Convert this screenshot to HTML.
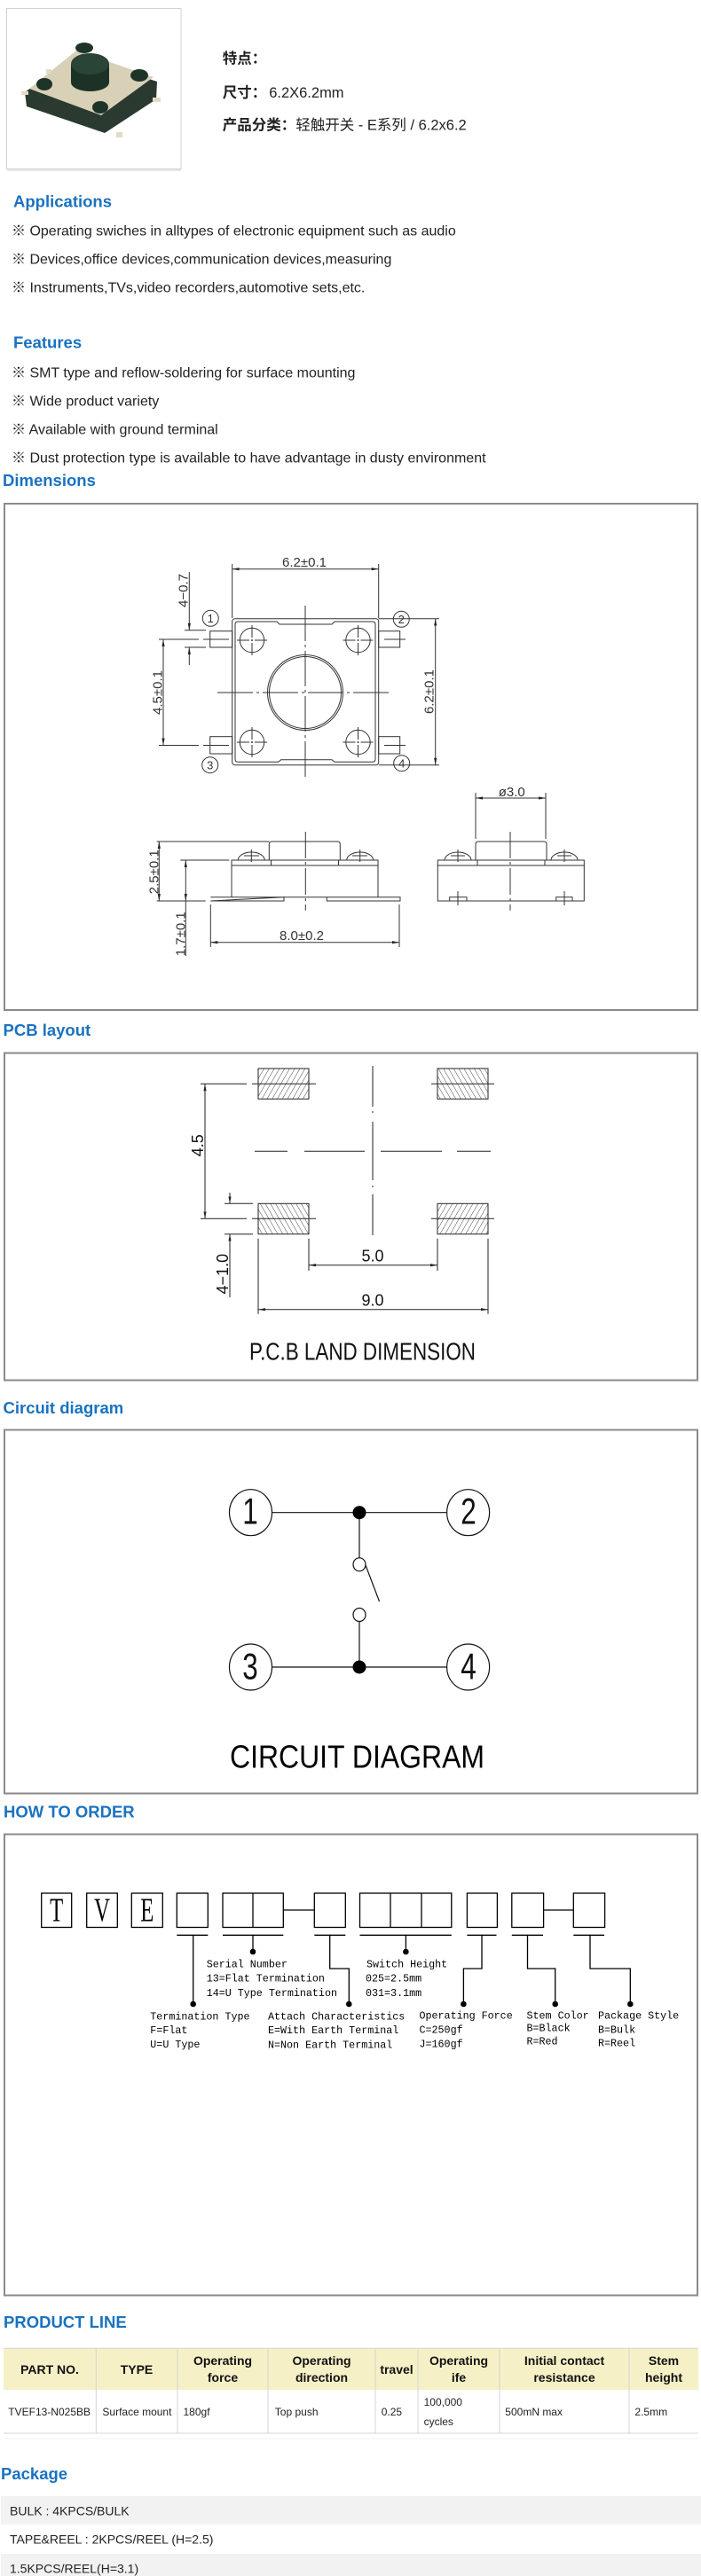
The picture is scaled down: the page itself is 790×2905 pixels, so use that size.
<!DOCTYPE html>
<html><head><meta charset="utf-8">
<style>
html,body{margin:0;padding:0;background:#fff;}
svg{display:block;}
.h{font-family:"Liberation Sans","Noto Sans CJK SC",sans-serif;font-weight:bold;font-size:18.5px;fill:#1a72c0;}
.b{font-family:"Liberation Sans","Noto Sans CJK SC",sans-serif;font-size:16px;fill:#222;}
.c{font-family:"Liberation Sans",sans-serif;fill:#333;}
.m{font-family:"Liberation Mono",monospace;font-size:11.7px;fill:#000;}
.th{font-family:"Liberation Sans",sans-serif;font-weight:bold;font-size:14px;fill:#111;}
.td{font-family:"Liberation Sans",sans-serif;font-size:12px;fill:#222;}
.pk{font-family:"Liberation Sans",sans-serif;font-size:14px;fill:#222;}
</style></head><body>
<svg width="790" height="2905" viewBox="0 0 790 2905" xmlns="http://www.w3.org/2000/svg">
<defs>
<marker id="ar" viewBox="0 0 10 4" refX="10" refY="2" markerWidth="8" markerHeight="3.2" markerUnits="userSpaceOnUse" orient="auto-start-reverse"><path d="M0,0L10,2L0,4z" fill="#222"/></marker>
<pattern id="hA" width="5" height="5" patternUnits="userSpaceOnUse" patternTransform="rotate(30)"><line x1="0" y1="0" x2="0" y2="5" stroke="#333" stroke-width="0.9"/></pattern>
<pattern id="hB" width="5" height="5" patternUnits="userSpaceOnUse" patternTransform="rotate(-30)"><line x1="0" y1="0" x2="0" y2="5" stroke="#333" stroke-width="0.9"/></pattern>
</defs>

<!-- ===== Product image ===== -->
<rect x="7.5" y="9.5" width="196.5" height="181" fill="#fff" stroke="#d2d2d2" stroke-width="1"/>
<line x1="8" y1="192" x2="204" y2="192" stroke="#e8e8e8" stroke-width="2"/>
<polygon points="28,104 86,62 177,92 176,112 118,150 30,120" fill="#2b3a31"/>
<polygon points="33,100 86,57 173,87 114,130" fill="#d8d1b8"/>
<rect x="24" y="103" width="8" height="4" fill="#e2dcc6"/>
<rect x="172" y="110" width="9" height="5" fill="#e2dcc6"/>
<rect x="131" y="149" width="7" height="6" fill="#e2dcc6"/>
<rect x="52" y="78" width="6" height="5" fill="#e2dcc6"/>
<ellipse cx="95" cy="54" rx="10" ry="6" fill="#1f3428"/>
<ellipse cx="50" cy="95" rx="9" ry="7" fill="#1f3428"/>
<ellipse cx="157" cy="85" rx="10" ry="7" fill="#1f3428"/>
<ellipse cx="113" cy="121" rx="9" ry="7" fill="#1f3428"/>
<rect x="80" y="72" width="43" height="21" fill="#1d3226"/>
<ellipse cx="101.5" cy="93" rx="21.5" ry="10" fill="#1d3226"/>
<ellipse cx="101.5" cy="72" rx="21.5" ry="12" fill="#2a4536"/>

<!-- ===== Top text ===== -->
<text x="250.7" y="71.7" class="b" style="font-size:16.5px;font-weight:bold">特点：</text>
<text x="250.7" y="110" class="b" style="font-size:16.5px"><tspan font-weight="bold">尺寸：</tspan><tspan dx="3">6.2X6.2mm</tspan></text>
<text x="250.7" y="146.7" class="b" style="font-size:16.5px"><tspan font-weight="bold">产品分类：</tspan>轻触开关 - E系列 / 6.2x6.2</text>

<!-- ===== Applications / Features ===== -->
<text x="15" y="233.5" class="h">Applications</text>
<text x="13" y="265.7" class="b">※ Operating swiches in alltypes of electronic equipment such as audio</text>
<text x="13" y="297.7" class="b">※ Devices,office devices,communication devices,measuring</text>
<text x="13" y="329.3" class="b">※ Instruments,TVs,video recorders,automotive sets,etc.</text>
<text x="15" y="392.7" class="h">Features</text>
<text x="13" y="425.7" class="b">※ SMT type and reflow-soldering for surface mounting</text>
<text x="13" y="457.3" class="b">※ Wide product variety</text>
<text x="13" y="489.3" class="b">※ Available with ground terminal</text>
<text x="13" y="521.7" class="b">※ Dust protection type is available to have advantage in dusty environment</text>

<!-- ===== Dimensions ===== -->
<text x="3" y="548" class="h">Dimensions</text>
<rect x="5" y="568" width="781" height="571" fill="none" stroke="#8a8a8a" stroke-width="2"/>
<g stroke="#333" stroke-width="1" fill="none">
  <!-- top dim -->
  <line x1="261.7" y1="636" x2="261.7" y2="697"/>
  <line x1="426.7" y1="636" x2="426.7" y2="697"/>
  <line x1="261.7" y1="641.7" x2="426.7" y2="641.7" marker-start="url(#ar)" marker-end="url(#ar)"/>
  <!-- body -->
  <rect x="261.7" y="697.7" width="165" height="165" rx="3"/>
  <path d="M268,701 H312 L315,704 H374 L377,701 H420 Q423,701 423,704 V856 Q423,859.3 420,859.3 H377 L374,856.7 H316.7 L313.7,859.3 H268 Q265,859.3 265,856 V704 Q265,701 268,701 Z"/>
  <circle cx="344" cy="781" r="42.5"/>
  <circle cx="344" cy="781" r="40.5"/>
  <circle cx="284" cy="722" r="13.7"/>
  <circle cx="403.5" cy="722" r="13.7"/>
  <circle cx="284" cy="837" r="13.7"/>
  <circle cx="403.5" cy="837" r="13.7"/>
  <g stroke-dasharray="14,2,2,2,14">
    <line x1="267" y1="722" x2="301" y2="722"/><line x1="284" y1="705" x2="284" y2="739"/>
    <line x1="386.5" y1="722" x2="420.5" y2="722"/><line x1="403.5" y1="705" x2="403.5" y2="739"/>
    <line x1="267" y1="837" x2="301" y2="837"/><line x1="284" y1="820" x2="284" y2="854"/>
    <line x1="386.5" y1="837" x2="420.5" y2="837"/><line x1="403.5" y1="820" x2="403.5" y2="854"/>
  </g>
  <line x1="344" y1="683" x2="344" y2="878" stroke-dasharray="40,4,3,4"/>
  <line x1="245" y1="781" x2="442" y2="781" stroke-dasharray="40,4,3,4"/>
  <!-- terminals -->
  <rect x="236.7" y="711.7" width="25" height="18.3"/>
  <rect x="426.7" y="711.7" width="24" height="18.3"/>
  <rect x="236.7" y="830.7" width="25" height="19.3"/>
  <rect x="426.7" y="830.7" width="24" height="19.3"/>
  <line x1="179" y1="721" x2="224" y2="721"/>
  <line x1="229" y1="721" x2="258" y2="721"/>
  <line x1="433" y1="721" x2="457" y2="721"/>
  <line x1="179" y1="840.5" x2="224" y2="840.5"/>
  <line x1="229" y1="840.5" x2="258" y2="840.5"/>
  <line x1="433" y1="840.5" x2="457" y2="840.5"/>
  <!-- 4-0.7 -->
  <line x1="208" y1="710.7" x2="232" y2="710.7"/>
  <line x1="208" y1="730" x2="232" y2="730"/>
  <line x1="213.3" y1="645" x2="213.3" y2="710.7" marker-end="url(#ar)"/>
  <line x1="213.3" y1="750" x2="213.3" y2="730" marker-end="url(#ar)"/>
  <!-- 4.5 dim -->
  <line x1="184" y1="721" x2="184" y2="840.5" marker-start="url(#ar)" marker-end="url(#ar)"/>
  <!-- right 6.2 -->
  <line x1="426.7" y1="697.7" x2="495" y2="697.7"/>
  <line x1="426.7" y1="862.7" x2="495" y2="862.7"/>
  <line x1="490.7" y1="697.7" x2="490.7" y2="862.7" marker-start="url(#ar)" marker-end="url(#ar)"/>
  <!-- number circles -->
  <circle cx="237.3" cy="697.3" r="9"/>
  <circle cx="452.3" cy="698.3" r="9"/>
  <circle cx="236.7" cy="862.7" r="9"/>
  <circle cx="452.7" cy="860.7" r="9"/>

  <!-- side view -->
  <path d="M303.3,970 V952 Q303.3,949 306.3,949 H380.3 Q383.3,949 383.3,952 V970"/>
  <rect x="261" y="970" width="165" height="6"/>
  <line x1="305.5" y1="970" x2="305.5" y2="976"/><line x1="381.5" y1="970" x2="381.5" y2="976"/>
  <line x1="261" y1="976" x2="261" y2="1011.7"/>
  <line x1="426" y1="976" x2="426" y2="1011.7"/>
  <path d="M237.3,1011.7 H451 V1016 H368.3 V1011.7 M320,1011.7 V1016 H237.3 Z"/>
  <path d="M268.3,970 A15,9 0 0 1 298.3,970"/>
  <path d="M390.7,970 A15,9 0 0 1 420.7,970"/>
  <line x1="283.3" y1="958" x2="283.3" y2="972"/><line x1="275" y1="965" x2="292" y2="965"/>
  <line x1="405.7" y1="958" x2="405.7" y2="972"/><line x1="397" y1="965" x2="414" y2="965"/>
  <line x1="344.3" y1="938" x2="344.3" y2="1026.7" stroke-dasharray="30,4,3,4"/>
  <!-- 2.5 dim -->
  <line x1="176.7" y1="949" x2="303.3" y2="949"/>
  <line x1="176.7" y1="1016" x2="231.7" y2="1016"/>
  <line x1="179.3" y1="949" x2="179.3" y2="1016" marker-start="url(#ar)" marker-end="url(#ar)"/>
  <!-- 1.7 dim -->
  <line x1="203.3" y1="970" x2="258.3" y2="970"/>
  <line x1="209.3" y1="970" x2="209.3" y2="1016" marker-start="url(#ar)" marker-end="url(#ar)"/>
  <line x1="209.3" y1="1016" x2="209.3" y2="1078"/>
  <!-- 8.0 dim -->
  <line x1="237.3" y1="1020" x2="237.3" y2="1068"/>
  <line x1="450" y1="1020" x2="450" y2="1068"/>
  <line x1="237.3" y1="1062.7" x2="450" y2="1062.7" marker-start="url(#ar)" marker-end="url(#ar)"/>

  <!-- right view -->
  <path d="M536,970 V952 Q536,949 539,949 H613 Q616,949 616,952 V970"/>
  <rect x="493.3" y="970" width="165" height="6"/>
  <line x1="538" y1="970" x2="538" y2="976"/><line x1="614" y1="970" x2="614" y2="976"/>
  <rect x="493.3" y="976" width="165" height="40"/>
  <path d="M501,970 A15,9 0 0 1 531,970"/>
  <path d="M621,970 A15,9 0 0 1 651,970"/>
  <line x1="516" y1="958" x2="516" y2="972"/><line x1="508" y1="965" x2="524" y2="965"/>
  <line x1="636" y1="958" x2="636" y2="972"/><line x1="628" y1="965" x2="644" y2="965"/>
  <rect x="506.7" y="1011.7" width="19.3" height="4.3"/>
  <rect x="626.7" y="1011.7" width="18.3" height="4.3"/>
  <line x1="516" y1="1005" x2="516" y2="1021"/>
  <line x1="636" y1="1005" x2="636" y2="1021"/>
  <line x1="575" y1="938" x2="575" y2="1026.7" stroke-dasharray="30,4,3,4"/>
  <line x1="536" y1="894" x2="536" y2="946"/>
  <line x1="615" y1="894" x2="615" y2="946"/>
  <line x1="536" y1="900" x2="615" y2="900" marker-start="url(#ar)" marker-end="url(#ar)"/>
</g>
<g class="c" font-size="15">
  <text x="343" y="639" text-anchor="middle">6.2±0.1</text>
  <text transform="translate(488.3,780) rotate(-90)" text-anchor="middle">6.2±0.1</text>
  <text transform="translate(182.5,781) rotate(-90)" text-anchor="middle">4.5±0.1</text>
  <text transform="translate(211.7,666) rotate(-90)" text-anchor="middle">4−0.7</text>
  <text transform="translate(178.3,983.3) rotate(-90)" text-anchor="middle">2.5±0.1</text>
  <text transform="translate(208.3,1053.3) rotate(-90)" text-anchor="middle">1.7±0.1</text>
  <text x="340" y="1060" text-anchor="middle">8.0±0.2</text>
  <text x="576.7" y="898" text-anchor="middle">ø3.0</text>
</g>
<g class="c" font-size="13" text-anchor="middle">
  <text x="237.3" y="702">1</text>
  <text x="452.3" y="703">2</text>
  <text x="236.7" y="867.5">3</text>
  <text x="452.7" y="865.5">4</text>
</g>

<!-- ===== PCB layout ===== -->
<text x="3.5" y="1168" class="h">PCB layout</text>
<rect x="5" y="1187.5" width="781" height="369" fill="none" stroke="#8a8a8a" stroke-width="2"/>
<rect x="291" y="1205" width="57" height="34.3" fill="url(#hA)" stroke="#222" stroke-width="1"/>
<rect x="493" y="1205" width="57" height="34.3" fill="url(#hB)" stroke="#222" stroke-width="1"/>
<rect x="291" y="1357.3" width="57" height="34.4" fill="url(#hB)" stroke="#222" stroke-width="1"/>
<rect x="493" y="1357.3" width="57" height="34.4" fill="url(#hA)" stroke="#222" stroke-width="1"/>
<g stroke="#222" stroke-width="1" fill="none">
  <line x1="284" y1="1222.3" x2="356" y2="1222.3"/>
  <line x1="486" y1="1222.3" x2="557" y2="1222.3"/>
  <line x1="226" y1="1222.3" x2="278" y2="1222.3"/>
  <line x1="284" y1="1374.3" x2="356" y2="1374.3"/>
  <line x1="486" y1="1374.3" x2="557" y2="1374.3"/>
  <line x1="226" y1="1374.3" x2="278" y2="1374.3"/>
  <line x1="253" y1="1357.3" x2="285" y2="1357.3"/>
  <line x1="253" y1="1391.7" x2="285" y2="1391.7"/>
  <line x1="231" y1="1222.3" x2="231" y2="1374.3" marker-start="url(#ar)" marker-end="url(#ar)"/>
  <line x1="259" y1="1345" x2="259" y2="1357.3" marker-end="url(#ar)"/>
  <line x1="259" y1="1391.7" x2="259" y2="1463"/>
  <line x1="259" y1="1402" x2="259" y2="1391.7" marker-end="url(#ar)"/>
  <line x1="420" y1="1202" x2="420" y2="1248"/>
  <line x1="420" y1="1253" x2="420" y2="1255"/>
  <line x1="420" y1="1265" x2="420" y2="1331"/>
  <line x1="420" y1="1337" x2="420" y2="1339"/>
  <line x1="420" y1="1346.7" x2="420" y2="1393"/>
  <line x1="287" y1="1298.3" x2="324" y2="1298.3"/>
  <line x1="343" y1="1298.3" x2="411" y2="1298.3"/>
  <line x1="429" y1="1298.3" x2="498" y2="1298.3"/>
  <line x1="515" y1="1298.3" x2="553" y2="1298.3"/>
  <line x1="291" y1="1396.7" x2="291" y2="1481.7"/>
  <line x1="550" y1="1396.7" x2="550" y2="1481.7"/>
  <line x1="348" y1="1396.7" x2="348" y2="1433"/>
  <line x1="493" y1="1396.7" x2="493" y2="1433"/>
  <line x1="348" y1="1426.7" x2="493" y2="1426.7" marker-start="url(#ar)" marker-end="url(#ar)"/>
  <line x1="291" y1="1476.7" x2="550" y2="1476.7" marker-start="url(#ar)" marker-end="url(#ar)"/>
</g>
<g class="c" font-size="18" style="fill:#111">
  <text x="420" y="1422.5" text-anchor="middle">5.0</text>
  <text x="420" y="1472.5" text-anchor="middle">9.0</text>
  <text transform="translate(229,1291.7) rotate(-90)" text-anchor="middle">4.5</text>
  <text transform="translate(257,1436.7) rotate(-90)" text-anchor="middle">4−1.0</text>
  <text x="281" y="1533.3" font-size="28" textLength="255" lengthAdjust="spacingAndGlyphs">P.C.B LAND DIMENSION</text>
</g>

<!-- ===== Circuit diagram ===== -->
<text x="3.5" y="1594" class="h">Circuit diagram</text>
<rect x="5" y="1612.5" width="781" height="410" fill="none" stroke="#8a8a8a" stroke-width="2"/>
<g stroke="#111" stroke-width="1.2" fill="none">
  <ellipse cx="282.5" cy="1705.7" rx="24" ry="26"/>
  <ellipse cx="527.6" cy="1705.7" rx="24" ry="26"/>
  <ellipse cx="282.5" cy="1880" rx="24" ry="26"/>
  <ellipse cx="527.6" cy="1880" rx="24" ry="26"/>
  <line x1="306.5" y1="1705.7" x2="503.6" y2="1705.7"/>
  <line x1="306.5" y1="1880" x2="503.6" y2="1880"/>
  <line x1="405" y1="1705.7" x2="405" y2="1757"/>
  <ellipse cx="405" cy="1764.3" rx="7" ry="7.5"/>
  <line x1="412" y1="1765" x2="427.5" y2="1806"/>
  <ellipse cx="405" cy="1821" rx="7" ry="7.5"/>
  <line x1="405" y1="1828.5" x2="405" y2="1880"/>
</g>
<circle cx="405" cy="1705.7" r="7.5" fill="#000"/>
<circle cx="405" cy="1880" r="7.5" fill="#000"/>
<g font-family="Liberation Sans, sans-serif" font-size="42" fill="#111" text-anchor="middle">
  <text transform="translate(282,1718.3) scale(0.75,1)">1</text>
  <text transform="translate(528,1718.3) scale(0.75,1)">2</text>
  <text transform="translate(282,1893.3) scale(0.75,1)">3</text>
  <text transform="translate(528,1893.3) scale(0.75,1)">4</text>
</g>
<text x="259" y="1993.3" font-family="Liberation Sans, sans-serif" font-size="36" fill="#000" textLength="287" lengthAdjust="spacingAndGlyphs">CIRCUIT DIAGRAM</text>

<!-- ===== HOW TO ORDER ===== -->
<text x="4" y="2049.5" class="h">HOW TO ORDER</text>
<rect x="5" y="2068.5" width="781" height="520" fill="none" stroke="#8a8a8a" stroke-width="2"/>
<g stroke="#000" stroke-width="1.3" fill="none">
  <rect x="46.7" y="2135" width="34" height="38.5"/>
  <rect x="97.7" y="2135" width="34.6" height="38.5"/>
  <rect x="148.3" y="2135" width="35" height="38.5"/>
  <rect x="199.3" y="2135" width="35" height="38.5"/>
  <rect x="251" y="2135" width="68.3" height="38.5"/>
  <line x1="285" y1="2135" x2="285" y2="2173.5"/>
  <rect x="354.3" y="2135" width="35" height="38.5"/>
  <rect x="405.5" y="2135" width="103.3" height="38.5"/>
  <line x1="440" y1="2135" x2="440" y2="2173.5"/>
  <line x1="475" y1="2135" x2="475" y2="2173.5"/>
  <rect x="526.4" y="2135" width="34" height="38.5"/>
  <rect x="576.8" y="2135" width="35.8" height="38.5"/>
  <rect x="646.3" y="2135" width="35.3" height="38.5"/>
  <line x1="319.3" y1="2154" x2="354.3" y2="2154"/>
  <line x1="612.6" y1="2154" x2="646.3" y2="2154"/>
  <line x1="199.3" y1="2182.3" x2="234.3" y2="2182.3"/>
  <line x1="251" y1="2182.3" x2="319.3" y2="2182.3"/>
  <line x1="354.3" y1="2182.3" x2="389.3" y2="2182.3"/>
  <line x1="405.5" y1="2182.3" x2="508.8" y2="2182.3"/>
  <line x1="526.4" y1="2182.3" x2="559.5" y2="2182.3"/>
  <line x1="576.8" y1="2182.3" x2="612" y2="2182.3"/>
  <line x1="646.3" y1="2182.3" x2="681" y2="2182.3"/>
  <path d="M217.7,2182.3 V2260"/>
  <path d="M285,2182.3 V2201"/>
  <path d="M371.7,2182.3 V2220 H393.3 V2260"/>
  <path d="M457.4,2182.3 V2201"/>
  <path d="M543,2182.3 V2220 H522.4 V2260"/>
  <path d="M594.5,2182.3 V2220 H625.7 V2260"/>
  <path d="M665,2182.3 V2220 H710.3 V2260"/>
</g>
<g fill="#000">
  <circle cx="217.7" cy="2260" r="3.3"/>
  <circle cx="285" cy="2201" r="3.3"/>
  <circle cx="393.3" cy="2260" r="3.3"/>
  <circle cx="457.4" cy="2201" r="3.3"/>
  <circle cx="522.4" cy="2260" r="3.3"/>
  <circle cx="625.7" cy="2260" r="3.3"/>
  <circle cx="710.3" cy="2260" r="3.3"/>
</g>
<g font-family="Liberation Serif, serif" font-size="38" fill="#000" text-anchor="middle">
  <text transform="translate(63.7,2166.7) scale(0.65,1)">T</text>
  <text transform="translate(115,2166.7) scale(0.65,1)">V</text>
  <text transform="translate(165.8,2166.7) scale(0.65,1)">E</text>
</g>
<g class="m">
  <text x="232.7" y="2218.3">Serial Number</text>
  <text x="232.7" y="2234.6">13=Flat Termination</text>
  <text x="232.7" y="2251">14=U Type Termination</text>
  <text x="413" y="2218.3">Switch Height</text>
  <text x="412" y="2234.6">025=2.5mm</text>
  <text x="412" y="2251">031=3.1mm</text>
  <text x="169.3" y="2277.7">Termination Type</text>
  <text x="169.3" y="2293">F=Flat</text>
  <text x="169.3" y="2309">U=U Type</text>
  <text x="302" y="2277.7">Attach Characteristics</text>
  <text x="302" y="2293">E=With Earth Terminal</text>
  <text x="302" y="2309.3">N=Non Earth Terminal</text>
  <text x="472.5" y="2276.5">Operating Force</text>
  <text x="472.5" y="2292.5">C=250gf</text>
  <text x="472.5" y="2308.7">J=160gf</text>
  <text x="593.5" y="2276.3">Stem Color</text>
  <text x="593.5" y="2290.3">B=Black</text>
  <text x="593.5" y="2305.7">R=Red</text>
  <text x="674" y="2276.3">Package Style</text>
  <text x="674" y="2292.5">B=Bulk</text>
  <text x="674" y="2307.6">R=Reel</text>
</g>

<!-- ===== PRODUCT LINE ===== -->
<text x="4" y="2625" class="h">PRODUCT LINE</text>
<rect x="4" y="2648.3" width="783" height="46.7" fill="#f6f0c6"/>
<g stroke="#d4d4d4" stroke-width="1">
  <line x1="4" y1="2648.3" x2="787" y2="2648.3"/>
  <line x1="4" y1="2744" x2="787" y2="2744"/>
  <line x1="108.3" y1="2648.3" x2="108.3" y2="2744"/>
  <line x1="200" y1="2648.3" x2="200" y2="2744"/>
  <line x1="302" y1="2648.3" x2="302" y2="2744"/>
  <line x1="423" y1="2648.3" x2="423" y2="2744"/>
  <line x1="471" y1="2648.3" x2="471" y2="2744"/>
  <line x1="563" y1="2648.3" x2="563" y2="2744"/>
  <line x1="709" y1="2648.3" x2="709" y2="2744"/>
</g>
<line x1="4" y1="2750" x2="787" y2="2750" stroke="#f0f0f0" stroke-width="1"/>
<g class="th" text-anchor="middle">
  <text x="56" y="2677">PART NO.</text>
  <text x="154" y="2677">TYPE</text>
  <text x="251" y="2667">Operating</text><text x="251" y="2686">force</text>
  <text x="362.5" y="2667">Operating</text><text x="362.5" y="2686">direction</text>
  <text x="447" y="2677">travel</text>
  <text x="517" y="2667">Operating</text><text x="517" y="2686">ife</text>
  <text x="636" y="2667">Initial contact</text><text x="636" y="2686">resistance</text>
  <text x="748" y="2667">Stem</text><text x="748" y="2686">height</text>
</g>
<g class="td">
  <text x="9.3" y="2724">TVEF13-N025BB</text>
  <text x="115.4" y="2724">Surface mount</text>
  <text x="206.5" y="2724">180gf</text>
  <text x="309.8" y="2724">Top push</text>
  <text x="429.7" y="2724">0.25</text>
  <text x="477.6" y="2713">100,000</text>
  <text x="477.6" y="2735">cycles</text>
  <text x="569.3" y="2724">500mN max</text>
  <text x="715.4" y="2724">2.5mm</text>
</g>

<!-- ===== Package ===== -->
<text x="1" y="2796" class="h">Package</text>
<rect x="1" y="2815" width="789" height="31.7" fill="#f2f2f2"/>
<rect x="1" y="2880" width="789" height="25" fill="#f2f2f2"/>
<g class="pk">
  <text x="11" y="2836.5">BULK : 4KPCS/BULK</text>
  <text x="11" y="2868.5">TAPE&amp;REEL : 2KPCS/REEL (H=2.5)</text>
  <text x="11" y="2901.5">1.5KPCS/REEL(H=3.1)</text>
</g>
</svg>
</body></html>
